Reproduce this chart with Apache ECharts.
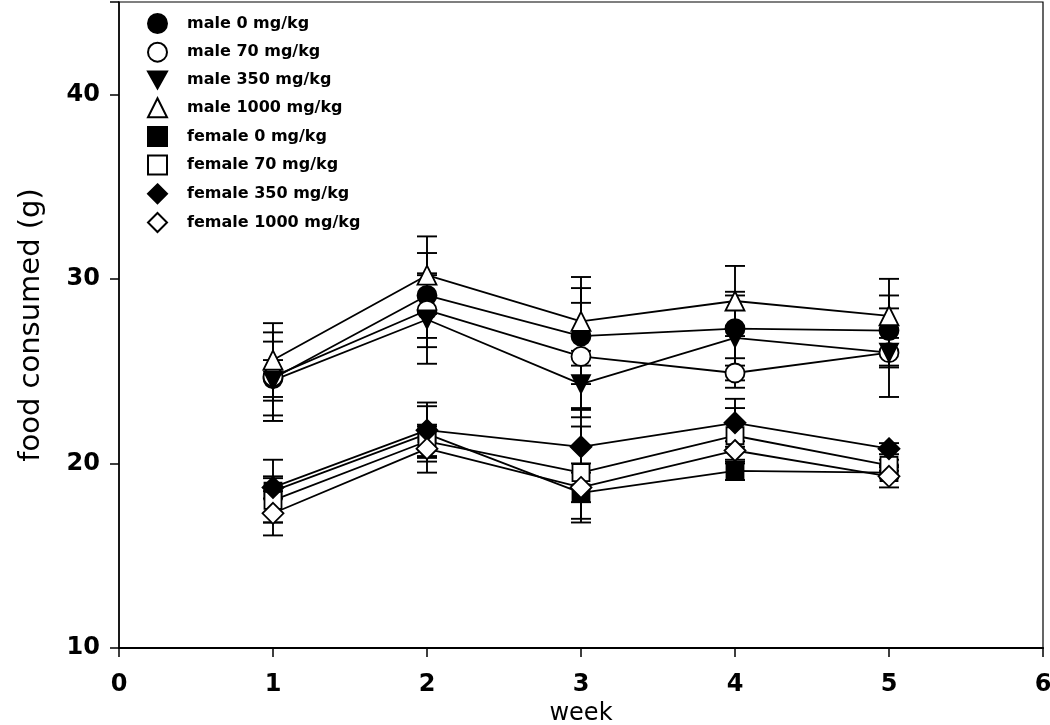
<!DOCTYPE html>
<html>
<head>
<meta charset="utf-8">
<script src="https://cdn.jsdelivr.net/npm/echarts@6/dist/echarts.min.js"></script>
<style>html,body{margin:0;padding:0;background:#fff}#c{width:1050px;height:725px}</style>
</head>
<body>
<div id="c"></div>
<script>
// ---- data ----
const weeks = [1, 2, 3, 4, 5];
const seriesNames = ['male 0 mg/kg', 'male 70 mg/kg', 'male 350 mg/kg', 'male 1000 mg/kg',
  'female 0 mg/kg', 'female 70 mg/kg', 'female 350 mg/kg', 'female 1000 mg/kg'];
const male0 = [24.6, 29.1, 26.9, 27.3, 27.2];
const male0Sd = [2.0, 2.3, 2.6, 2.0, 1.9];
const male70 = [24.7, 28.3, 25.8, 24.9, 26.0];
const male70Sd = [2.4, 2.0, 2.9, 0.8, 0.8];
const male350 = [24.5, 27.8, 24.3, 26.8, 26.0];
const male350Sd = [1.1, 2.4, 1.8, 2.3, 2.4];
const male1000 = [25.6, 30.2, 27.7, 28.8, 28.0];
const male1000Sd = [2.0, 2.1, 2.4, 1.9, 2.0];
const female0 = [18.5, 21.6, 18.4, 19.6, 19.5];
const female0Sd = [1.7, 1.5, 1.6, 0.5, 0.3];
const female70 = [18.0, 21.2, 19.5, 21.5, 19.9];
const female70Sd = [1.2, 0.8, 2.5, 1.5, 0.3];
const female350 = [18.7, 21.8, 20.9, 22.2, 20.8];
const female350Sd = [0.6, 1.5, 2.1, 1.3, 0.3];
const female1000 = [17.3, 20.8, 18.7, 20.7, 19.3];
const female1000Sd = [1.2, 1.3, 0.8, 0.5, 0.6];
const yTicks = [10, 20, 30, 40];
const xTicks = [0, 1, 2, 3, 4, 5, 6];

const means = [male0, male70, male350, male1000, female0, female70, female350, female1000];
const sds = [male0Sd, male70Sd, male350Sd, male1000Sd, female0Sd, female70Sd, female350Sd, female1000Sd];
const downTri = 'path://M0,0L10,0L5,9Z';
const symbols = ['circle', 'circle', downTri, 'triangle', 'rect', 'rect', 'diamond', 'diamond'];
const filled = [true, false, true, false, true, false, true, false];
const sizes = [19, 19, 18, 19, 17, 17, 21, 21];

const FONT = '"DejaVu Sans", Verdana, sans-serif';

function errRender(params, api) {
  const x = api.value(0), lo = api.value(1), hi = api.value(2);
  const p1 = api.coord([x, lo]), p2 = api.coord([x, hi]);
  const w = 10;
  const st = { stroke: '#000', lineWidth: 1.9 };
  return {
    type: 'group', children: [
      { type: 'line', shape: { x1: p1[0], y1: p1[1], x2: p2[0], y2: p2[1] }, style: st },
      { type: 'line', shape: { x1: p1[0] - w, y1: p1[1], x2: p1[0] + w, y2: p1[1] }, style: st },
      { type: 'line', shape: { x1: p2[0] - w, y1: p2[1], x2: p2[0] + w, y2: p2[1] }, style: st }
    ]
  };
}

const series = [];
seriesNames.forEach((name, i) => {
  series.push({
    type: 'custom', name: name + ' err', renderItem: errRender, z: 1,
    data: weeks.map((w, j) => [w, means[i][j] - sds[i][j], means[i][j] + sds[i][j]]),
    encode: { x: 0, y: [1, 2] }, silent: true
  });
});
seriesNames.forEach((name, i) => {
  series.push({
    type: 'line', name: name, z: 3,
    data: weeks.map((w, j) => [w, means[i][j]]),
    symbol: symbols[i], symbolSize: sizes[i], showAllSymbol: true,
    lineStyle: { color: '#000', width: 1.8 },
    itemStyle: { color: filled[i] ? '#000' : '#fff', borderColor: '#000', borderWidth: 1.8 },
    emphasis: { disabled: true }, animation: false
  });
});

const chart = echarts.init(document.getElementById('c'), null, { renderer: 'canvas' });
chart.setOption({
  animation: false,
  backgroundColor: '#fff',
  grid: { left: 119, right: 7, top: 2, bottom: 77, show: true, borderColor: '#000', borderWidth: 1.2,
    containLabel: false, outerBoundsMode: 'none' },
  legend: {
    orient: 'vertical', left: 142, top: 8, itemWidth: 19, itemHeight: 19, itemGap: 7.7,
    data: seriesNames.map((n, i) => ({ name: n, icon: symbols[i] })),
    textStyle: { fontFamily: FONT, fontWeight: 'bold', fontSize: 16, color: '#000', padding: [0, 0, 0, 15] },
    selectedMode: false
  },
  xAxis: {
    type: 'value', min: 0, max: 6, interval: 1,
    name: 'week', nameLocation: 'middle', nameGap: 53,
    nameTextStyle: { fontFamily: FONT, fontSize: 24, color: '#000' },
    axisLine: { lineStyle: { color: '#000', width: 2.2 } },
    axisTick: { show: true, length: 9, lineStyle: { color: '#000', width: 1.5 } },
    axisLabel: { fontFamily: FONT, fontWeight: 'bold', fontSize: 24, color: '#000', margin: 25,
      formatter: v => xTicks.includes(v) ? String(v) : '' },
    splitLine: { show: false }
  },
  yAxis: {
    type: 'value', min: 10, max: 45, interval: 10,
    name: 'food consumed (g)', nameLocation: 'middle', nameGap: 73, nameRotate: 90,
    nameTextStyle: { fontFamily: FONT, fontSize: 29, color: '#000' },
    axisLine: { lineStyle: { color: '#000', width: 1.5 } },
    axisTick: { show: true, length: 9, lineStyle: { color: '#000', width: 1.5 } },
    axisLabel: { fontFamily: FONT, fontWeight: 'bold', fontSize: 24, color: '#000', margin: 19,
      formatter: v => yTicks.includes(v) ? String(v) : '' },
    splitLine: { show: false }
  },
  series: series
});
</script>
</body>
</html>
